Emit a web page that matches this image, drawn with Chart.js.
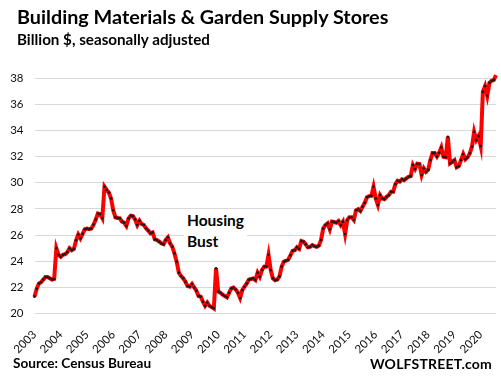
<!DOCTYPE html>
<html>
<head>
<meta charset="utf-8">
<script src="https://cdn.jsdelivr.net/npm/chart.js@4/dist/chart.umd.min.js"></script>
<style>
  html, body { margin: 0; padding: 0; background: #fff; }
  #wrap { position: relative; width: 501px; height: 378px; overflow: hidden; }
  canvas { position: absolute; left: 0; top: 0; }
  .t { position: absolute; white-space: nowrap; font-family: Lato, "Open Sans", sans-serif; font-weight: 700; color: #000; line-height: 1; }
</style>
</head>
<body>
<div id="wrap">
  <canvas id="c" width="501" height="378"></canvas>
  <div class="t" id="title" style="left:17px; top:7px; font-size:19.8px;">Building Materials &amp; Garden Supply Stores</div>
  <div class="t" id="sub" style="left:17px; top:32px; font-size:15.2px;">Billion $, seasonally adjusted</div>
  <div class="t" id="note" style="left:184px; top:210px; font-size:15.5px; line-height:20.5px; background:#fff; padding:0 3px 2px 3px;">Housing<br>Bust</div>
  <div class="t" id="src" style="left:13px; top:357px; font-size:13.6px;">Source: Census Bureau</div>
  <div class="t" id="ws" style="right:9px; top:357px; font-size:14px; letter-spacing:0.2px;">WOLFSTREET.com</div>
</div>
<script>
// Monthly sales, billion $, Jan 2003 - Aug 2020
const yearLabels = [2003, 2004, 2005, 2006, 2007, 2008, 2009, 2010, 2011, 2012,
                    2013, 2014, 2015, 2016, 2017, 2018, 2019, 2020];
const sales = [
  21.3, 21.9, 22.3, 22.4, 22.6, 22.8, 22.8, 22.7, 22.6, 22.65, 25.0, 24.5,        // 2003
  24.35, 24.5, 24.55, 24.7, 25.0, 24.85, 24.95, 25.6, 26.05, 25.75, 26.1, 26.45,  // 2004
  26.5, 26.45, 26.5, 26.8, 27.2, 27.65, 27.6, 27.3, 29.7, 29.45, 29.25, 28.8,     // 2005
  27.9, 27.35, 27.3, 27.28, 27.03, 26.95, 26.7, 27.28, 27.48, 27.45, 27.2, 26.77, // 2006
  27.1, 26.85, 26.77, 26.52, 26.34, 26.14, 26.21, 25.68, 25.63, 25.5, 25.37, 25.3,// 2007
  25.63, 25.83, 25.37, 25.11, 24.6, 23.97, 23.13, 22.88, 22.7, 22.44, 22.11, 22.06,// 2008
  22.27, 22.0, 21.76, 21.35, 21.3, 20.92, 20.6, 20.85, 20.6, 20.5, 20.4, 23.47,   // 2009
  21.7, 21.6, 21.45, 21.35, 21.25, 21.6, 21.94, 22.0, 21.85, 21.6, 21.2, 21.8,    // 2010
  22.06, 22.3, 22.6, 22.65, 22.7, 22.57, 23.13, 22.82, 23.33, 23.59, 23.6, 24.5,  // 2011
  23.33, 22.7, 22.55, 22.6, 22.85, 23.59, 23.97, 24.05, 24.12, 24.45, 24.8, 24.85,// 2012
  25.07, 24.95, 25.55, 25.5, 25.3, 25.07, 25.1, 25.24, 25.15, 25.1, 25.2, 25.63,  // 2013
  26.5, 26.77, 26.9, 26.44, 27.03, 27.0, 26.95, 27.08, 26.77, 27.03, 26.08, 27.15,// 2014
  27.36, 27.36, 27.15, 27.9, 27.99, 27.84, 28.17, 28.47, 28.89, 28.98, 29.0, 29.7,// 2015
  28.8, 28.3, 29.06, 28.8, 28.75, 28.93, 29.06, 29.31, 29.31, 29.9, 30.15, 30.08, // 2016
  30.26, 30.2, 30.34, 30.46, 30.5, 31.35, 31.05, 31.45, 31.43, 30.59, 31.1, 30.84,// 2017
  31.0, 31.73, 32.27, 32.27, 32.0, 32.29, 32.7, 31.98, 31.94, 33.51, 31.48, 31.6, // 2018
  31.73, 31.18, 31.27, 31.73, 32.19, 31.79, 31.94, 32.24, 32.75, 33.89, 33.26, 33.56, // 2019
  32.8, 36.95, 37.38, 36.64, 37.63, 37.79, 37.85, 38.22                           // 2020
];
const yTicks = [20, 22, 24, 26, 28, 30, 32, 34, 36, 38];

// category labels (one per month) built from the years
const months = [];
yearLabels.forEach(y => { for (let m = 1; m <= 12; m++) months.push(y + '-' + String(m).padStart(2, '0')); });
months.length = sales.length;

const tickFont = { family: 'Lato, "Open Sans", sans-serif', size: 11.5 };

new Chart(document.getElementById('c'), {
  type: 'line',
  data: {
    labels: months,
    datasets: [{
      data: sales,
      borderColor: '#ff0000',
      borderWidth: 4,
      pointRadius: 1.35,
      pointBackgroundColor: '#1a1a1a',
      pointBorderWidth: 0,
      pointHoverRadius: 1.35,
      tension: 0,
      clip: false
    }]
  },
  options: {
    responsive: false,
    animation: false,
    devicePixelRatio: 1,
    layout: { padding: { top: 78, left: 9.5, right: 5, bottom: 20.3 } },
    plugins: { legend: { display: false }, tooltip: { enabled: false }, title: { display: false } },
    scales: {
      x: {
        type: 'category',
        offset: false,
        grid: { display: false },
        border: { display: false },
        afterFit: s => { s.height = 44; },
        ticks: {
          autoSkip: false,
          maxRotation: 45,
          minRotation: 45,
          padding: 6,
          color: '#111',
          font: tickFont,
          callback: (v, i) => (i % 12 === 0 ? String(yearLabels[i / 12]) : null)
        }
      },
      y: {
        min: yTicks[0],
        max: yTicks[yTicks.length - 1],
        afterFit: s => { s.width = 25; },
        afterBuildTicks: s => { s.ticks = yTicks.map(v => ({ value: v })); },
        grid: { color: '#d9d9d9', lineWidth: 1, drawTicks: false },
        border: { display: false },
        ticks: { padding: 11, color: '#111', font: tickFont }
      }
    }
  }
});
</script>
</body>
</html>
